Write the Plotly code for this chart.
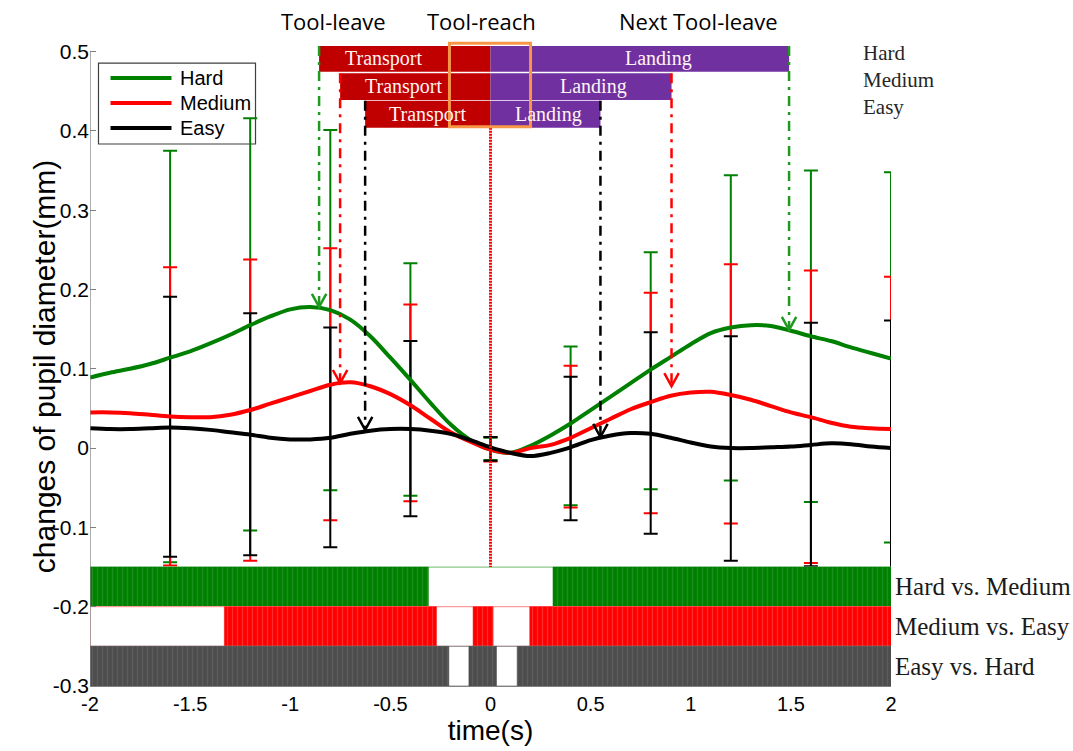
import plotly.graph_objects as go

# ---------------- data ----------------
time_s = [-2.0, -1.9, -1.8, -1.7, -1.6, -1.5, -1.4, -1.3, -1.2, -1.1, -1.0,
          -0.9, -0.8, -0.7, -0.6, -0.5, -0.4, -0.3, -0.2, -0.1, 0.0,
          0.1, 0.2, 0.3, 0.4, 0.5, 0.6, 0.7, 0.8, 0.9, 1.0,
          1.1, 1.2, 1.3, 1.4, 1.5, 1.6, 1.7, 1.8, 1.9, 2.0]

hard = [0.089, 0.095, 0.100, 0.106, 0.114, 0.122, 0.132, 0.143, 0.155, 0.166, 0.175,
        0.178, 0.174, 0.162, 0.141, 0.114, 0.086, 0.057, 0.030, 0.010, -0.002,
        -0.006, 0.003, 0.016, 0.031, 0.048, 0.065, 0.082, 0.099, 0.115, 0.131,
        0.145, 0.152, 0.155, 0.154, 0.148, 0.141, 0.135, 0.127, 0.120, 0.113]

medium = [0.045, 0.045, 0.044, 0.042, 0.040, 0.039, 0.039, 0.042, 0.048, 0.056, 0.064,
          0.072, 0.080, 0.083, 0.078, 0.068, 0.054, 0.037, 0.020, 0.008, -0.002,
          -0.006, 0.000, 0.004, 0.013, 0.025, 0.037, 0.049, 0.058, 0.066, 0.070,
          0.071, 0.067, 0.061, 0.053, 0.045, 0.039, 0.032, 0.027, 0.025, 0.024]

easy = [0.025, 0.024, 0.024, 0.025, 0.026, 0.025, 0.023, 0.020, 0.017, 0.013, 0.011,
        0.011, 0.013, 0.018, 0.022, 0.024, 0.024, 0.022, 0.018, 0.010, 0.001,
        -0.006, -0.010, -0.006, 0.001, 0.010, 0.016, 0.019, 0.018, 0.013, 0.007,
        0.002, 0.000, 0.000, 0.001, 0.002, 0.004, 0.006, 0.005, 0.002, 0.000]

# error bars (upper / lower ends) at sampled times
err_t = [-1.6, -1.2, -0.8, -0.4, 0.0, 0.4, 0.8, 1.2, 1.6, 2.0]
hard_hi = [0.375, 0.416, 0.401, 0.233, 0.013, 0.128, 0.247, 0.344, 0.350, 0.348]
hard_lo = [-0.144, -0.104, -0.053, -0.060, -0.015, -0.072, -0.052, -0.041, -0.068, -0.119]
medium_hi = [0.228, 0.238, 0.252, 0.181, 0.014, 0.104, 0.196, 0.232, 0.224, 0.216]
medium_lo = [-0.148, -0.142, -0.091, -0.067, -0.017, -0.075, -0.082, -0.095, -0.145, -0.166]
easy_hi = [0.191, 0.170, 0.152, 0.135, 0.014, 0.090, 0.146, 0.141, 0.158, 0.161]
easy_lo = [-0.137, -0.135, -0.125, -0.086, -0.016, -0.091, -0.108, -0.142, -0.149, -0.161]

# significance intervals of pairwise comparisons (time ranges, s)
comparisons = ["Hard vs. Medium", "Medium vs. Easy", "Easy vs. Hard"]
sig_hard_medium = [(-2.0, -0.31), (0.312, 2.0)]
sig_medium_easy = [(-1.329, -0.27), (-0.087, 0.013), (0.196, 2.0)]
sig_easy_hard = [(-2.0, -0.208), (-0.108, 0.03), (0.133, 2.0)]

# movement phases per difficulty
difficulty = ["Hard", "Medium", "Easy"]
transport_start = [-0.856, -0.751, -0.626]
landing_end = [1.491, 0.904, 0.549]
tool_reach = 0.0
arrow_tip_left = [0.178, 0.082, 0.023]
arrow_tip_right = [0.149, 0.078, 0.014]

event_labels = ["Tool-leave", "Tool-reach", "Next Tool-leave"]
event_label_x = [-0.784, -0.045, 1.039]

x_ticks = [-2, -1.5, -1, -0.5, 0, 0.5, 1, 1.5, 2]
x_ticktext = ["-2", "-1.5", "-1", "-0.5", "0", "0.5", "1", "1.5", "2"]
y_ticks = [-0.3, -0.2, -0.1, 0, 0.1, 0.2, 0.3, 0.4, 0.5]
y_ticktext = ["-0.3", "-0.2", "-0.1", "0", "0.1", "0.2", "0.3", "0.4", "0.5"]

# ---------------- styles ----------------
curve_colors = {"Hard": "#008000", "Medium": "#ff0000", "Easy": "#000000"}
arrow_colors = {"Hard": "#1f9a1f", "Medium": "#ff0000", "Easy": "#000000"}
band_colors = ["#008000", "#ff0000", "#4d4d4d"]
band_stripe = ["#3a9e3a", "#ff5a5a", "#6e6e6e"]
band_edge = ["#8cc88c", "#ff9a9a", "#9a9a9a"]
band_top = [-0.15, -0.20, -0.25]
band_bot = [-0.20, -0.25, -0.30]
row_top = [0.5071, 0.4727, 0.4381]
row_bot = [0.4747, 0.4390, 0.4041]
TRANSPORT = "#c00000"
LANDING = "#7030a0"
SANS = "Liberation Sans, Arial, sans-serif"
SERIF = "Liberation Serif, Times New Roman, serif"

fig = go.Figure()

# error bars
series = [("Hard", hard_hi, hard_lo), ("Medium", medium_hi, medium_lo), ("Easy", easy_hi, easy_lo)]
for name, hi, lo in series:
    mid = [(a + b) / 2 for a, b in zip(hi, lo)]
    half = [(a - b) / 2 for a, b in zip(hi, lo)]
    fig.add_trace(go.Scatter(
        x=err_t, y=mid, mode="markers", marker=dict(size=2, opacity=0),
        error_y=dict(type="data", array=half, symmetric=True,
                     color=curve_colors[name], thickness=2, width=7),
        showlegend=False, hoverinfo="skip"))

# mean curves
for name, vals in [("Hard", hard), ("Medium", medium), ("Easy", easy)]:
    fig.add_trace(go.Scatter(
        x=time_s, y=vals, mode="lines", name=name,
        line=dict(color=curve_colors[name], width=4, shape="spline", smoothing=0.9),
        showlegend=False))

# significance bands
for i, intervals in enumerate([sig_hard_medium, sig_medium_easy, sig_easy_hard]):
    b, t = band_bot[i], band_top[i]
    fig.add_trace(go.Scatter(
        x=[-2, 2, 2, -2, -2], y=[b, b, t, t, b], mode="lines", fill="toself",
        fillcolor="white", line=dict(color=band_edge[i], width=1.2),
        showlegend=False, hoverinfo="skip"))
    xs, ys = [], []
    for a, e in intervals:
        xs += [a, e, e, a, a, None]
        ys += [b, b, t, t, b, None]
    fig.add_trace(go.Scatter(
        x=xs, y=ys, mode="lines", fill="toself", fillcolor=band_colors[i],
        fillpattern=dict(shape="|", fgcolor=band_stripe[i], bgcolor=band_colors[i],
                         size=5, solidity=0.25),
        line=dict(color=band_colors[i], width=0.5),
        showlegend=False, hoverinfo="skip"))

shapes = []
annotations = []

# y axis line
shapes.append(dict(type="line", xref="x", yref="y", x0=-2, x1=-2, y0=-0.3, y1=0.5,
                   line=dict(color="#808080", width=1.3)))

# red dotted line at tool-reach
shapes.append(dict(type="line", xref="x", yref="y", x0=tool_reach, x1=tool_reach,
                   y0=row_bot[2], y1=band_top[0],
                   line=dict(color="#ff0000", width=3, dash="2px,1px")))

# phase bars
for i, name in enumerate(difficulty):
    shapes.append(dict(type="rect", xref="x", yref="y", x0=transport_start[i], x1=tool_reach,
                       y0=row_bot[i], y1=row_top[i], fillcolor=TRANSPORT, line=dict(width=0)))
    shapes.append(dict(type="rect", xref="x", yref="y", x0=tool_reach, x1=landing_end[i],
                       y0=row_bot[i], y1=row_top[i], fillcolor=LANDING, line=dict(width=0)))

transport_text_x = [-0.534, -0.434, -0.315]
landing_text_x = [0.839, 0.514, 0.29]
for i in range(3):
    yc = (row_top[i] + row_bot[i]) / 2
    annotations.append(dict(x=transport_text_x[i], y=yc, xref="x", yref="y", text="Transport",
                            showarrow=False, font=dict(family=SERIF, size=20, color="#fff4f4")))
    annotations.append(dict(x=landing_text_x[i], y=yc, xref="x", yref="y", text="Landing",
                            showarrow=False, font=dict(family=SERIF, size=20, color="#fff4f4")))

# orange highlight box
shapes.append(dict(type="rect", xref="x", yref="y", x0=-0.205, x1=0.2, y0=0.4053, y1=0.5105,
                   line=dict(color="#f79646", width=3), fillcolor="rgba(0,0,0,0)"))

# dash-dot arrows
AW, AH = 0.036, 0.0165
for i, name in enumerate(difficulty):
    col = arrow_colors[name]
    for xv, tip in [(transport_start[i], arrow_tip_left[i]), (landing_end[i], arrow_tip_right[i])]:
        shapes.append(dict(type="line", xref="x", yref="y", x0=xv, x1=xv, y0=row_top[i], y1=tip,
                           line=dict(color=col, width=2.5, dash="10px,6px,3px,6px")))
        shapes.append(dict(type="path", xref="x", yref="y",
                           path=f"M {xv-AW},{tip+AH} L {xv},{tip} L {xv+AW},{tip+AH}",
                           line=dict(color=col, width=2.5)))

# legend (drawn)
shapes.append(dict(type="rect", xref="x", yref="y", x0=-1.9576, x1=-1.1735, y0=0.3835, y1=0.4856,
                   line=dict(color="#404040", width=1.2), fillcolor="white", layer="below"))
leg_y = [0.4667, 0.4352, 0.4037]
for i, name in enumerate(difficulty):
    shapes.append(dict(type="line", xref="x", yref="y", x0=-1.8976, x1=-1.593, y0=leg_y[i], y1=leg_y[i],
                       line=dict(color=curve_colors[name], width=4)))
    annotations.append(dict(x=-1.563, y=leg_y[i], xref="x", yref="y", text=name, xanchor="left",
                            showarrow=False, font=dict(family=SANS, size=20, color="black")))

# right-top difficulty labels
right_lab_y = [0.4983, 0.4642, 0.4302]
for i, name in enumerate(difficulty):
    annotations.append(dict(x=1.848, y=right_lab_y[i], xref="x", yref="y", text=name, xanchor="left",
                            showarrow=False, font=dict(family=SERIF, size=21, color="#262626")))

# event labels
for lab, xv in zip(event_labels, event_label_x):
    annotations.append(dict(x=xv, y=0.5386, xref="x", yref="y", text=lab, showarrow=False,
                            font=dict(family="Open Sans, Noto Sans, sans-serif", size=22, color="black")))

# comparison labels
for i, lab in enumerate(comparisons):
    annotations.append(dict(x=1, xref="paper", y=(band_top[i] + band_bot[i]) / 2, yref="y",
                            text=lab, xanchor="left", xshift=2, showarrow=False,
                            font=dict(family=SERIF, size=25, color="#1a1a1a")))

# y axis title
annotations.append(dict(x=-0.079, xref="paper", y=0.1036, yref="y", text="changes of pupil diameter(mm)",
                        textangle=-90, showarrow=False, font=dict(family=SANS, size=30, color="black")))

fig.update_layout(
    width=1073, height=751,
    margin=dict(l=90, r=182, t=8, b=65),
    plot_bgcolor="white", paper_bgcolor="white",
    shapes=shapes, annotations=annotations,
    showlegend=False,
    xaxis=dict(range=[-2, 2], tickvals=x_ticks, ticktext=x_ticktext, ticks="",
               showgrid=False, zeroline=False, showline=True, linecolor="#808080", linewidth=1,
               tickfont=dict(family=SANS, size=20, color="black"),
               title=dict(text="time(s)", font=dict(family=SANS, size=28, color="black"), standoff=5),
               automargin=False),
    yaxis=dict(range=[-0.3, 0.555], tickvals=y_ticks, ticktext=y_ticktext, ticks="inside",
               ticklen=6, tickcolor="#808080", showgrid=False, zeroline=False, showline=False,
               tickfont=dict(family=SANS, size=21, color="black"), automargin=False),
)

fig.write_html("out.html")
